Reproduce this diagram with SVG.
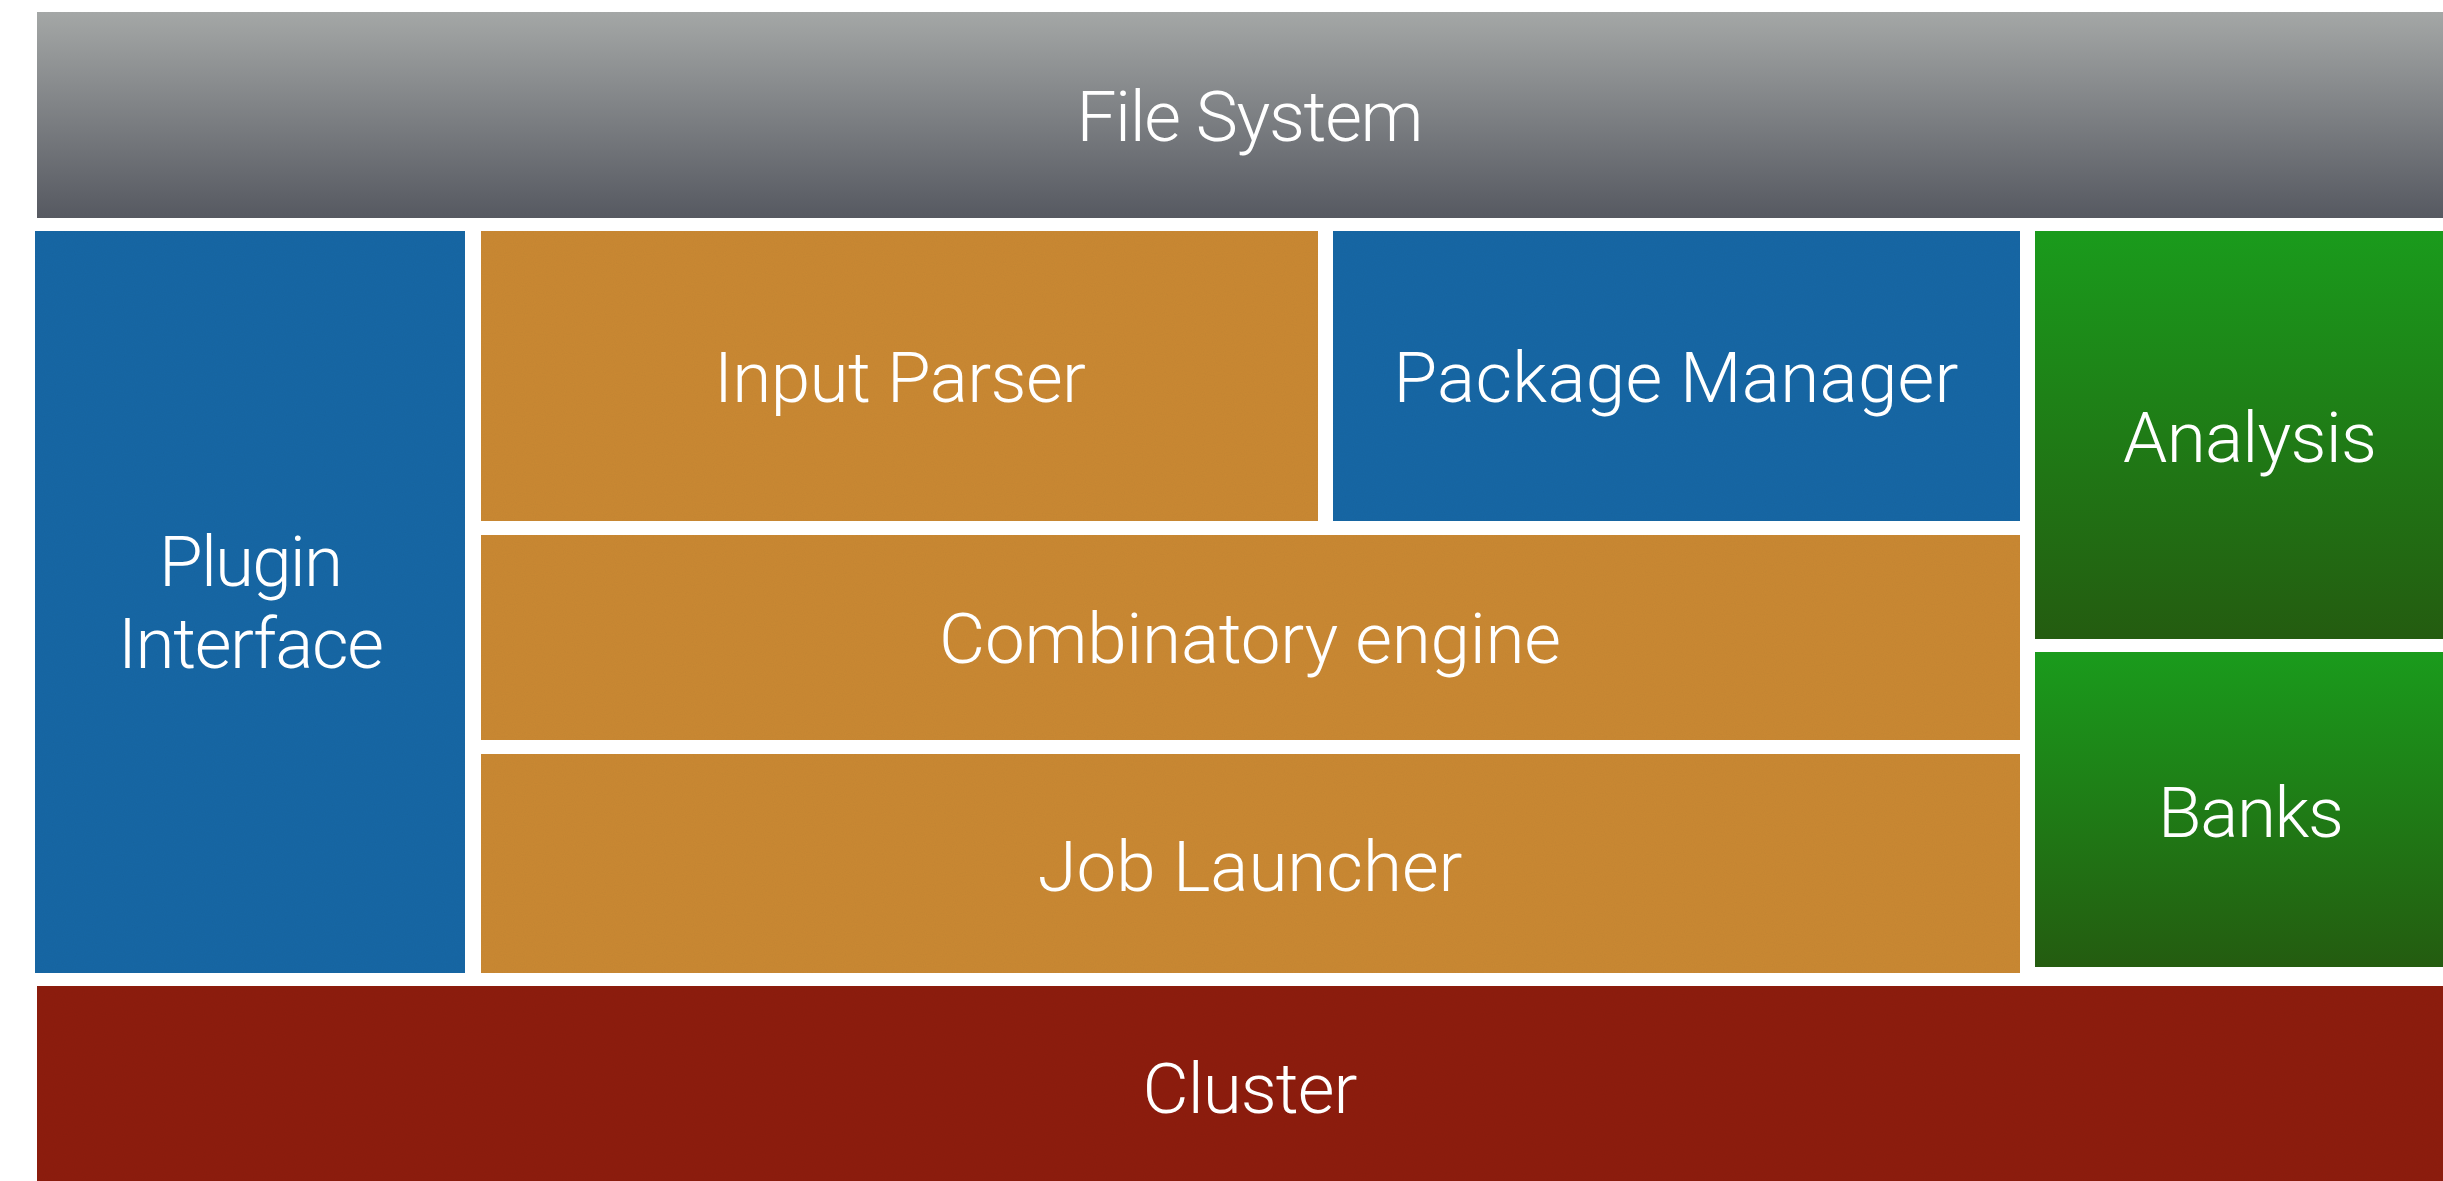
<svg xmlns="http://www.w3.org/2000/svg" width="2443" height="1181" viewBox="0 0 2443 1181">
  <defs>
    <linearGradient id="gGray" x1="0" y1="0" x2="0" y2="1">
      <stop offset="0" stop-color="#a4a7a6"/>
      <stop offset="1" stop-color="#565961"/>
    </linearGradient>
    <linearGradient id="gGreen" x1="0" y1="0" x2="0" y2="1">
      <stop offset="0" stop-color="#1a9b1c"/>
      <stop offset="1" stop-color="#245c10"/>
    </linearGradient>
    <filter id="noise" x="0" y="0" width="100%" height="100%">
      <feTurbulence type="fractalNoise" baseFrequency="0.9" numOctaves="2" seed="3" result="n"/>
      <feColorMatrix in="n" type="matrix" values="0 0 0 0 0  0 0 0 0 0  0 0 0 0 0  0 0 0 0.07 0" result="d"/>
      <feComposite in="d" in2="SourceGraphic" operator="in" result="dm"/>
      <feMerge><feMergeNode in="SourceGraphic"/><feMergeNode in="dm"/></feMerge>
    </filter>
  </defs>
  <style>
    .lbl { font-family: Roboto, "Liberation Sans", sans-serif; font-weight: 300; font-size: 71px; fill: #ffffff; text-anchor: middle; }
    .blue { fill: #1e67a5; }
    .orange { fill: #ca8935; }
    .red { fill: #8e2116; }
    .gray { fill: url(#gGray); }
    .green { fill: url(#gGreen); }
  </style>
  <rect width="2443" height="1181" fill="#ffffff"/>

  <g id="file-system">
    <rect class="gray" x="37" y="12" width="2440" height="206"/>
    <text class="lbl" x="1250" y="141" textLength="347">File System</text>
  </g>
  <g id="plugin-interface">
    <rect class="blue" x="35" y="231" width="430" height="742" filter="url(#noise)"/>
    <text class="lbl" x="251" y="586" textLength="184">Plugin</text>
    <text class="lbl" x="251" y="668" textLength="266">Interface</text>
  </g>
  <g id="input-parser">
    <rect class="orange" x="481" y="231" width="837" height="290" filter="url(#noise)"/>
    <text class="lbl" x="900" y="402" textLength="372">Input Parser</text>
  </g>
  <g id="package-manager">
    <rect class="blue" x="1333" y="231" width="687" height="290" filter="url(#noise)"/>
    <text class="lbl" x="1676" y="402" textLength="565">Package Manager</text>
  </g>
  <g id="combinatory-engine">
    <rect class="orange" x="481" y="535" width="1539" height="205" filter="url(#noise)"/>
    <text class="lbl" x="1250" y="663" textLength="622">Combinatory engine</text>
  </g>
  <g id="job-launcher">
    <rect class="orange" x="481" y="754" width="1539" height="219" filter="url(#noise)"/>
    <text class="lbl" x="1250" y="891" textLength="425">Job Launcher</text>
  </g>
  <g id="analysis">
    <rect class="green" x="2035" y="231" width="440" height="408"/>
    <text class="lbl" x="2250" y="462" textLength="254">Analysis</text>
  </g>
  <g id="banks">
    <rect class="green" x="2035" y="652" width="440" height="315"/>
    <text class="lbl" x="2251" y="837" textLength="186">Banks</text>
  </g>
  <g id="cluster">
    <rect class="red" x="37" y="986" width="2440" height="220" filter="url(#noise)"/>
    <text class="lbl" x="1250" y="1113" textLength="215">Cluster</text>
  </g>
  <g id="connectors"/>
</svg>
